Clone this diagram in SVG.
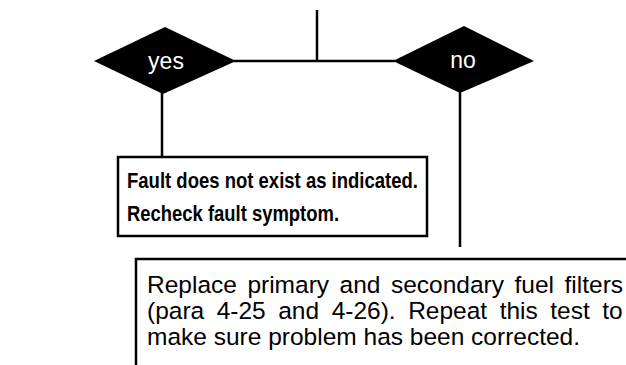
<svg xmlns="http://www.w3.org/2000/svg" width="626" height="365" viewBox="0 0 626 365">
  <style>
    .wire { stroke: #000; stroke-width: 2.5; fill: none; stroke-linecap: butt; }
    .decision { fill: #000; }
    .decision-label { fill: #fff; font-family: "Liberation Sans", Arial, sans-serif; font-size: 23px; text-anchor: middle; }
    .box { fill: #fff; stroke: #000; stroke-width: 2.5; }
    .bold-text { font-family: "Liberation Sans", Arial, sans-serif; font-weight: bold; font-size: 21.5px; fill: #000; }
    .body-text { font-family: "Liberation Sans", Arial, sans-serif; font-size: 24.5px; fill: #000; }
  </style>

  <rect width="626" height="365" fill="#fff"/>

  <!-- connectors -->
  <g id="connectors">
    <line class="wire" x1="317" y1="10" x2="317" y2="61"/>
    <line class="wire" x1="234" y1="61" x2="395" y2="61"/>
    <line class="wire" x1="162" y1="92" x2="162" y2="157"/>
    <line class="wire" x1="460" y1="91" x2="460" y2="247"/>
  </g>

  <!-- decision: yes -->
  <g id="decision-yes">
    <polygon class="decision" points="94,61 165,27 236,61 163,94"/>
    <text class="decision-label" x="166" y="69">yes</text>
  </g>

  <!-- decision: no -->
  <g id="decision-no">
    <polygon class="decision" points="393,61 464,26 534,61 460,93"/>
    <text class="decision-label" x="463" y="68">no</text>
  </g>

  <!-- result when fault is absent -->
  <g id="box-no-fault">
    <rect class="box" x="118" y="157" width="309" height="79"/>
    <text class="bold-text" x="127" y="188" textLength="291" lengthAdjust="spacingAndGlyphs">Fault does not exist as indicated.</text>
    <text class="bold-text" x="127" y="221" textLength="212" lengthAdjust="spacingAndGlyphs">Recheck fault symptom.</text>
  </g>

  <!-- corrective action (open box, runs off the right and bottom) -->
  <g id="box-replace-filters">
    <path class="wire" d="M136,365 V259 H626"/>
    <text class="body-text" x="147" y="293" word-spacing="3.7">Replace primary and secondary fuel filters</text>
    <text class="body-text" x="147" y="319" word-spacing="5.7">(para 4-25 and 4-26). Repeat this test to</text>
    <text class="body-text" x="147" y="345">make sure problem has been corrected.</text>
  </g>
</svg>
